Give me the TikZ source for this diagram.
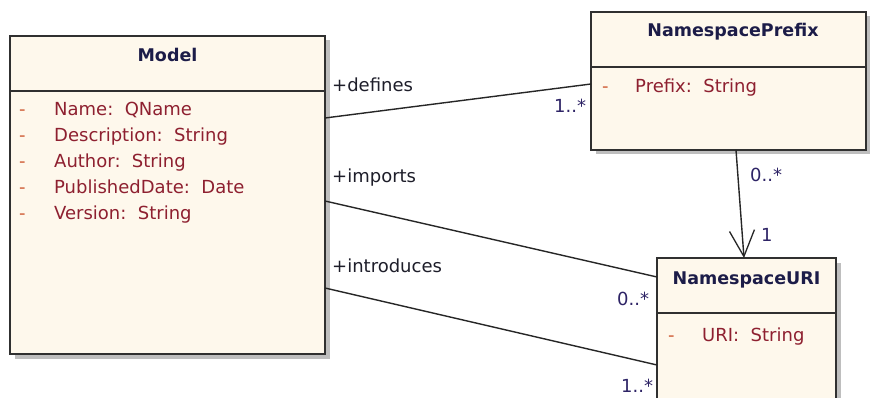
\documentclass[tikz,border=0pt]{standalone}
\usepackage{fontspec}
\setmainfont{DejaVu Sans}
\usetikzlibrary{arrows.meta,calc,shadows}

\definecolor{classfill}{HTML}{FEF8EC}
\definecolor{classborder}{HTML}{303030}
\definecolor{titlecol}{HTML}{1C1C48}
\definecolor{attrcol}{HTML}{8E2030}
\definecolor{dashcol}{HTML}{D0603A}
\definecolor{multcol}{HTML}{2E2466}
\definecolor{rolecol}{HTML}{1E1E2A}
\definecolor{shadowcol}{HTML}{BEBEBE}

\begin{document}
\begin{tikzpicture}[x=1pt, y=-1pt,
  classbox/.style={draw=classborder, line width=1.4pt, fill=classfill,
    anchor=north west, inner sep=0pt, outer sep=0pt,
    drop shadow={shadow xshift=4.5pt, shadow yshift=-4.5pt, fill=shadowcol, opacity=1}},
  sepline/.style={draw=classborder, line width=1.3pt},
  classtitle/.style={anchor=base, inner sep=0pt, text=titlecol,
    font=\fontsize{17.5}{20}\selectfont\bfseries},
  attrdash/.style={anchor=base west, inner sep=0pt, text=dashcol,
    font=\fontsize{18}{20}\selectfont},
  attr/.style={anchor=base west, inner sep=0pt, text=attrcol,
    font=\fontsize{18}{20}\selectfont},
  role/.style={anchor=base west, inner sep=0pt, text=rolecol,
    font=\fontsize{18}{20}\selectfont},
  mult/.style={anchor=base west, inner sep=0pt, text=multcol,
    font=\fontsize{18}{20}\selectfont},
  assoc/.style={draw=black!85, line width=1.4pt},
  navig/.style={draw=black!85, line width=1.4pt,
    -{Straight Barb[length=26pt, width=25pt, line width=1.3pt]}}
]
\useasboundingbox (0,0) rectangle (870,398);
\clip (0,0) rectangle (870,398);
\fill[white] (0,0) rectangle (870,398);

% ---- class Model ----
\node[classbox, minimum width=315pt, minimum height=318pt] (model) at (10,36) {};
\draw[sepline] (model.west |- 0,91) -- (model.east |- 0,91);
\node[classtitle] (modeltitle) at (167.5,62) {Model};
\node[attrdash] (md1) at (19,116) {-};
\node[attr] (ma1) at (54,116) {Name:\ \ QName};
\node[attrdash] (md2) at (19,142) {-};
\node[attr] (ma2) at (54,142) {Description:\ \ String};
\node[attrdash] (md3) at (19,168) {-};
\node[attr] (ma3) at (54,168) {Author:\ \ String};
\node[attrdash] (md4) at (19,194) {-};
\node[attr] (ma4) at (54,194) {PublishedDate:\ \ Date};
\node[attrdash] (md5) at (19,220) {-};
\node[attr] (ma5) at (54,220) {Version:\ \ String};

% ---- class NamespacePrefix ----
\node[classbox, minimum width=275pt, minimum height=138pt] (prefix) at (591,12) {};
\draw[sepline] (prefix.west |- 0,67) -- (prefix.east |- 0,67);
\node[classtitle] (prefixtitle) at (733,37) {NamespacePrefix};
\node[attrdash] (pd1) at (602,93) {-};
\node[attr] (pa1) at (635,93) {Prefix:\ \ String};

% ---- class NamespaceURI ----
\node[classbox, minimum width=179pt, minimum height=170pt] (uri) at (657,258) {};
\draw[sepline] (uri.west |- 0,313) -- (uri.east |- 0,313);
\node[classtitle] (urititle) at (746.5,284) {NamespaceURI};
\node[attrdash] (ud1) at (668,341) {-};
\node[attr] (ua1) at (702,341) {URI:\ \ String};

% ---- associations ----
\draw[assoc] ($(model.north east)+(0,82)$) -- ($(prefix.north west)+(0,72)$);
\draw[assoc] ($(model.north east)+(0,165)$) -- ($(uri.north west)+(0,19)$);
\draw[assoc] ($(model.north east)+(0,252)$) -- ($(uri.north west)+(0,107)$);
\draw[navig] ($(prefix.south west)+(145,0)$) -- ($(uri.north west)+(87,0)$);

% ---- role names ----
\node[role] (rdefines) at (332,92) {+defines};
\node[role] (rimports) at (332,183) {+imports};
\node[role] (rintro) at (332,272) {+introduces};

% ---- multiplicities ----
\node[mult] (m1) at (554,113) {1..*};
\node[mult] (m2) at (750,182) {0..*};
\node[mult] (m3) at (761,241) {1};
\node[mult] (m4) at (617,305) {0..*};
\node[mult] (m5) at (621,392) {1..*};
\end{tikzpicture}
\end{document}
